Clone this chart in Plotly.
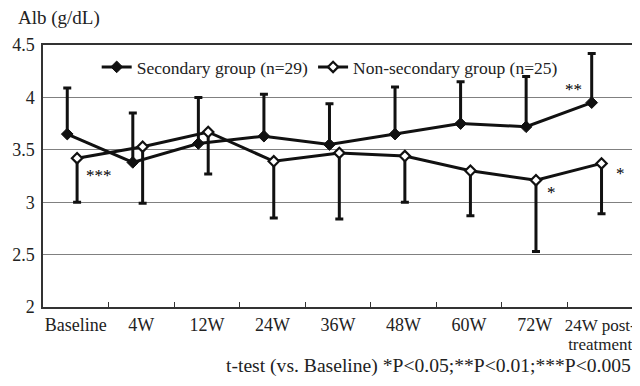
import plotly.graph_objects as go

categories = ["Baseline", "4W", "12W", "24W", "36W", "48W", "60W", "72W", "24W post-|treatment"]
secondary_mean = [3.65, 3.38, 3.56, 3.63, 3.55, 3.65, 3.75, 3.72, 3.95]
secondary_upper = [4.09, 3.85, 4.00, 4.03, 3.94, 4.10, 4.15, 4.20, 4.42]
nonsec_mean = [3.42, 3.53, 3.67, 3.39, 3.47, 3.44, 3.30, 3.21, 3.37]
nonsec_lower = [3.00, 2.99, 3.27, 2.85, 2.84, 3.00, 2.87, 2.53, 2.89]
y_ticks = [2, 2.5, 3, 3.5, 4, 4.5]

FONT = "Liberation Serif"
idx = list(range(len(categories)))
x_sec = [i - 0.13 for i in idx]
x_non = [i + 0.02 for i in idx]


def tick_label(c):
    parts = c.split("|")
    size = 18 if len(parts) == 1 else 17
    return "<br>".join(f"<span style='font-size:{size}px'>{p}</span>" for p in parts)


tick_text = [tick_label(c) for c in categories]

fig = go.Figure()
fig.add_trace(go.Scatter(
    x=x_sec, y=secondary_mean, mode="lines+markers", name="Secondary group (n=29)",
    line=dict(color="#111111", width=3),
    marker=dict(symbol="diamond", size=9, color="#111111", line=dict(color="#111111", width=1)),
    error_y=dict(type="data", symmetric=False,
                 array=[u - m for u, m in zip(secondary_upper, secondary_mean)],
                 arrayminus=[0] * len(secondary_mean),
                 color="#111111", thickness=3, width=4),
))
fig.add_trace(go.Scatter(
    x=x_non, y=nonsec_mean, mode="lines+markers", name="Non-secondary group (n=25)",
    line=dict(color="#111111", width=3),
    marker=dict(symbol="diamond", size=8, color="white", line=dict(color="#111111", width=2.2)),
    error_y=dict(type="data", symmetric=False,
                 array=[0] * len(nonsec_mean),
                 arrayminus=[m - l for m, l in zip(nonsec_mean, nonsec_lower)],
                 color="#111111", thickness=3, width=4),
))

# significance marks
stars = [
    (x_non[0], nonsec_mean[0], "***", 22, -17),
    (x_sec[8], secondary_mean[8], "**", -18, 13),
    (x_non[7], nonsec_mean[7], "*", 16, -12),
    (x_non[8], nonsec_mean[8], "*", 19, -10),
]
for x, y, t, dx, dy in stars:
    fig.add_annotation(x=x, y=y, text=t, showarrow=False, xshift=dx, yshift=dy,
                       font=dict(family=FONT, size=17, color="#000000"))

fig.add_annotation(xref="paper", yref="paper", x=0, y=1, xshift=-27, yshift=27,
                   xanchor="left", yanchor="middle", text="Alb (g/dL)", showarrow=False,
                   font=dict(family=FONT, size=19, color="#222222"))
fig.add_annotation(xref="paper", yref="paper", x=1, y=0, yshift=-59,
                   xanchor="right", yanchor="middle",
                   text="t-test (vs. Baseline) *P<0.05;**P<0.01;***P<0.005", showarrow=False,
                   font=dict(family=FONT, size=19.6, color="#222222"))

fig.update_layout(
    width=632, height=378,
    margin=dict(l=29, r=4, t=37, b=79),
    paper_bgcolor="white", plot_bgcolor="white",
    font=dict(family=FONT, size=18, color="#222222"),
    showlegend=True,
    legend=dict(orientation="h", x=0.091, y=0.916, xanchor="left", yanchor="middle",
                bgcolor="rgba(0,0,0,0)", font=dict(family=FONT, size=17.5, color="#222222"),
                itemwidth=30),
    xaxis=dict(range=[-0.5, len(categories) - 0.5], tickmode="array", tickvals=idx,
               ticktext=tick_text, ticks="", showgrid=False, zeroline=False,
               tickfont=dict(family=FONT, size=14.8, color="#222222"),
               showline=True, linecolor="#333333", linewidth=1.5, mirror=True,
               ticklabelstandoff=4,
               minor=dict(tickmode="array", tickvals=[i + 0.5 for i in idx[:-1]],
                          ticks="inside", ticklen=5, tickcolor="#333333", showgrid=False)),
    yaxis=dict(range=[2, 4.5], tickmode="array", tickvals=y_ticks, ticks="",
               showgrid=True, gridcolor="#808080", gridwidth=1, zeroline=False,
               showline=True, linecolor="#333333", linewidth=1.5, mirror=True,
               ticklabelstandoff=3),
)

fig.write_html("out.html")
